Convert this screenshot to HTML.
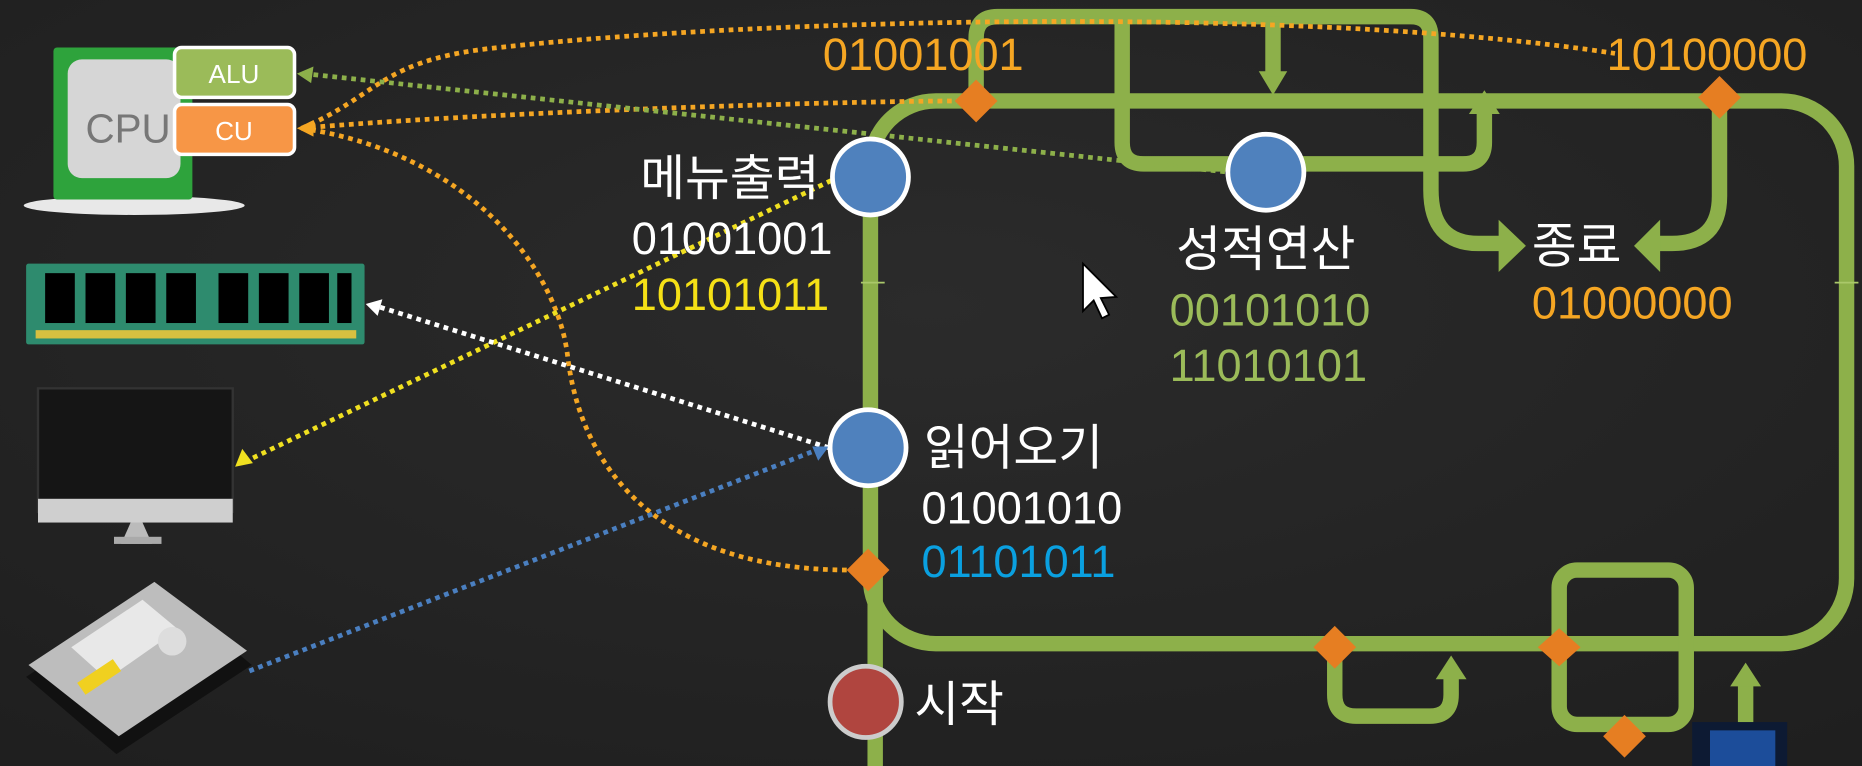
<!DOCTYPE html>
<html><head><meta charset="utf-8"><style>
html,body{margin:0;padding:0;background:#262626;overflow:hidden}
svg{display:block}
text{font-family:"Liberation Sans","Noto Sans CJK KR",sans-serif}
</style></head><body>
<svg width="1862" height="766" viewBox="0 0 1568 645" preserveAspectRatio="none" xmlns="http://www.w3.org/2000/svg">
<defs>
<radialGradient id="bg" cx="50%" cy="40%" r="75%"><stop offset="0" stop-color="#2b2b2b"/><stop offset="1" stop-color="#1f1f1f"/></radialGradient>
</defs>
<rect width="1568" height="645" fill="url(#bg)"/>

<g fill="none" stroke="#8db04a" stroke-width="13" stroke-linejoin="round">
<rect x="733" y="85" width="822" height="457" rx="55"/>
<line x1="737" y1="480" x2="737" y2="645"/>
<path d="M822,85 V32 Q822,14 840,14 H1188 Q1205,14 1205,32 V160 Q1205,205 1245,205 H1266"/>
<path d="M945,14 V120 Q945,138 963,138 H1232 Q1250,138 1250,120 V94"/>
<path d="M1072,14 V62"/>
<path d="M1448,82 V165 Q1448,205 1408,205 H1394"/>
<path d="M1124,545 V585 Q1124,603 1142,603 H1204 Q1222,603 1222,585 V570"/>
<rect x="1313" y="480" width="107" height="130" rx="15"/>
<path d="M1470,645 V576"/>
</g>
<g fill="#8db04a">
<polygon points="1262,185 1285,207 1262,229"/>
<polygon points="1237,96 1250,76 1263,96"/>
<polygon points="1060,60 1072,80 1084,60"/>
<polygon points="1398,185 1376,207 1398,229"/>
<polygon points="1209,572 1222,552 1235,572"/>
<polygon points="1457,578 1470,558 1483,578"/>
</g>
<g stroke="#aac86a" stroke-width="1.5"><line x1="725" y1="238" x2="745" y2="238"/><line x1="1545" y1="238" x2="1565" y2="238"/></g>
<rect x="1425" y="608" width="80" height="37" fill="#0d1a33"/><rect x="1440" y="615" width="55" height="30" fill="#1c4d9a"/>

<g fill="none" stroke-width="4" stroke-dasharray="4 4">
<path d="M254,108 C320,80 320,50 420,40 C650,15 1100,5 1360,45" stroke="#f5a623"/>
<path d="M254,108 C400,95 700,85 812,85" stroke="#f5a623"/>
<path d="M254,108 C400,130 470,230 478,300 C490,400 560,480 716,480" stroke="#f5a623"/>
<path d="M256,62 L1035,145" stroke="#8db04a"/>
<path d="M700,152 L208,388" stroke="#f0e020"/>
<path d="M698,377 L318,258" stroke="#ffffff"/>
<path d="M210,565 L690,378" stroke="#4a7fc0"/>
</g>
<polygon points="250,62 264,56 262,70" fill="#8db04a"/>
<polygon points="250,108 264,101 264,115" fill="#f5a623"/>
<polygon points="198,393 204,378 213,390" fill="#f0e020"/>
<polygon points="308,256 322,252 318,266" fill="#ffffff"/>
<polygon points="698,376 684,376 689,388" fill="#4a7fc0"/>

<g fill="#e67e22">
<polygon points="822,67 840,85 822,103 804,85"/>
<polygon points="1448,64 1466,82 1448,100 1430,82"/>
<polygon points="731,462 749,480 731,498 713,480"/>
<polygon points="1124,527 1142,545 1124,563 1106,545"/>
<polygon points="1313,529 1331,545 1313,561 1295,545"/>
<polygon points="1368,602 1386,620 1368,638 1350,620"/>
</g>

<g stroke="#fff" stroke-width="4" fill="#4f81bd">
<circle cx="733" cy="149" r="32"/>
<circle cx="1066" cy="145" r="32"/>
<circle cx="731" cy="377" r="32"/>
</g>
<circle cx="729" cy="591" r="30" fill="#b0453f" stroke="#ccc" stroke-width="4"/>

<g font-size="38">
<text x="690" y="164" fill="#fff" text-anchor="end" font-size="41">메뉴출력</text>
<text x="532" y="214" fill="#fff">01001001</text>
<text x="532" y="261" fill="#f5e016">10101011</text>
<text x="1066" y="224" fill="#fff" text-anchor="middle" font-size="41">성적연산</text>
<text x="985" y="274" fill="#9bbb59">00101010</text>
<text x="985" y="321" fill="#9bbb59">11010101</text>
<text x="1290" y="221" fill="#fff" font-size="41">종료</text>
<text x="1290" y="268" fill="#f5a623">01000000</text>
<text x="778" y="391" fill="#fff" font-size="41">읽어오기</text>
<text x="776" y="441" fill="#fff">01001010</text>
<text x="776" y="486" fill="#0aa0e0">01101011</text>
<text x="770" y="607" fill="#fff" font-size="41">시작</text>
<text x="693" y="59" fill="#f5a623">01001001</text>
<text x="1353" y="59" fill="#f5a623">10100000</text>
</g>

<polygon points="912,222 912,262 921,253 928,268 934,265 927,251 940,250" fill="#fff" stroke="#000" stroke-width="1.5"/>

<ellipse cx="113" cy="173" rx="93" ry="8" fill="#e8e8e8"/>
<rect x="45" y="40" width="117" height="128" fill="#2ea33c" rx="3"/>
<rect x="57" y="50" width="95" height="100" fill="#d6d6d6" rx="12"/>
<text x="72" y="120" font-size="34" fill="#777" font-family="Liberation Mono,monospace">CPU</text>
<rect x="147" y="40" width="101" height="42" rx="6" fill="#9bbb59" stroke="#fff" stroke-width="3"/>
<text x="197" y="70" font-size="22" fill="#fff" text-anchor="middle">ALU</text>
<rect x="147" y="88" width="101" height="42" rx="6" fill="#f79646" stroke="#fff" stroke-width="3"/>
<text x="197" y="118" font-size="22" fill="#fff" text-anchor="middle">CU</text>

<rect x="22" y="222" width="285" height="68" fill="#2e8b6e" rx="2"/>
<g fill="#000">
<rect x="38" y="230" width="25" height="42"/><rect x="72" y="230" width="25" height="42"/><rect x="106" y="230" width="25" height="42"/><rect x="140" y="230" width="25" height="42"/>
<rect x="184" y="230" width="25" height="42"/><rect x="218" y="230" width="25" height="42"/><rect x="252" y="230" width="25" height="42"/><rect x="284" y="230" width="12" height="42"/>
</g>
<rect x="30" y="278" width="270" height="7" fill="#d8c040"/>

<rect x="32" y="327" width="164" height="104" fill="#151515" stroke="#333" stroke-width="2"/>
<rect x="32" y="420" width="164" height="20" fill="#cfcfcf"/>
<polygon points="110,440 120,440 128,458 102,458" fill="#bbb"/>
<rect x="96" y="452" width="40" height="6" fill="#aaa"/>

<polygon points="22,570 135,495 212,560 98,635" fill="#111"/>
<polygon points="24,560 130,490 208,548 100,620" fill="#bdbdbd"/>
<polygon points="60,545 120,505 150,530 90,572" fill="#e8e8e8"/>
<circle cx="145" cy="540" r="12" fill="#ddd"/>
<polygon points="65,575 95,555 102,565 72,585" fill="#f0d020"/>
</svg>
</body></html>
